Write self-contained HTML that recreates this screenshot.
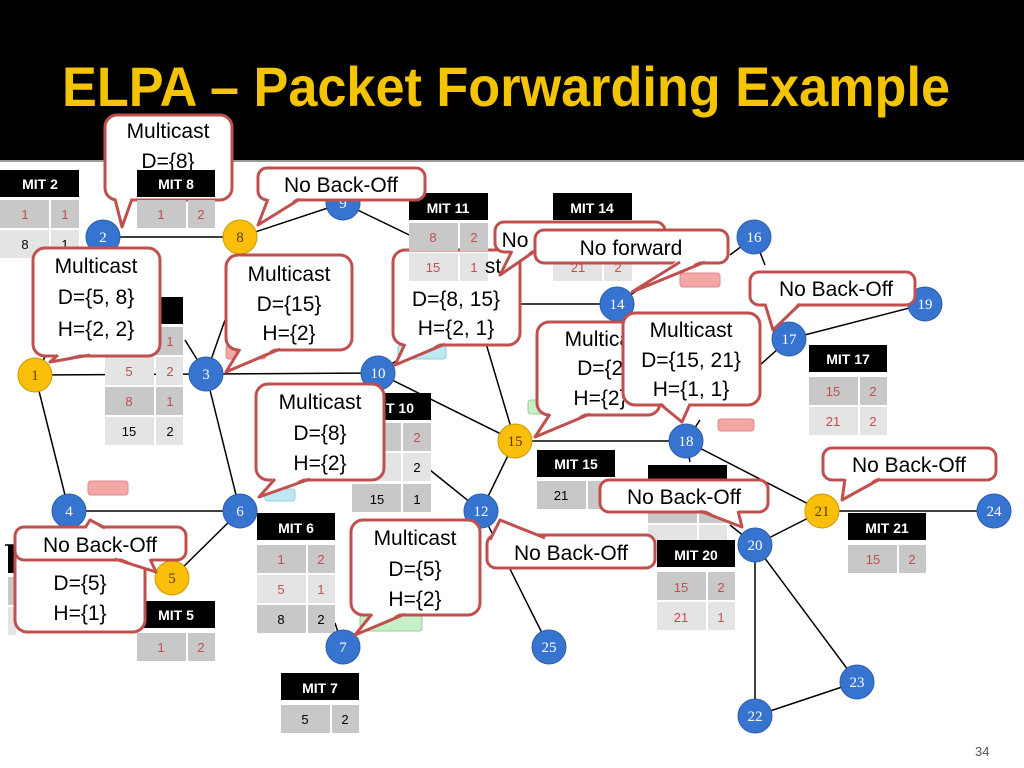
<!DOCTYPE html>
<html><head><meta charset="utf-8"><style>
html,body{margin:0;padding:0;background:#fff}
svg{display:block}
.t{font-family:"Liberation Sans",sans-serif}
.nl{font-family:"Liberation Serif",serif;font-size:15px;fill:#fff;text-anchor:middle}
.hd{font-family:"Liberation Sans",sans-serif;font-weight:bold;font-size:14px;fill:#fff;text-anchor:middle}
.cl{font-family:"Liberation Sans",sans-serif;font-size:13px;text-anchor:middle}
.co{font-family:"Liberation Sans",sans-serif;font-size:21px;fill:#000;text-anchor:middle}
</style></head><body>
<svg width="1024" height="768" viewBox="0 0 1024 768" xmlns="http://www.w3.org/2000/svg">
<rect x="0" y="0" width="1024" height="160" fill="#000"/>
<line x1="0" y1="161" x2="1024" y2="161" stroke="#999" stroke-width="2"/>
<text x="62" y="106" class="t" font-size="56" font-weight="bold" fill="#f5c400" textLength="888" lengthAdjust="spacingAndGlyphs">ELPA – Packet Forwarding Example</text>

<!-- edges -->
<g stroke="#000" stroke-width="1.5">
<line x1="35" y1="375" x2="206" y2="374"/>
<line x1="35" y1="375" x2="69" y2="511"/>
<line x1="35" y1="375" x2="60" y2="330"/>
<line x1="103" y1="237" x2="240" y2="237"/>
<line x1="240" y1="237" x2="343" y2="203"/>
<line x1="343" y1="203" x2="430" y2="245"/>
<line x1="206" y1="374" x2="378" y2="373"/>
<line x1="206" y1="374" x2="185" y2="340"/>
<line x1="206" y1="374" x2="240" y2="511"/>
<line x1="206" y1="374" x2="225" y2="320"/>
<line x1="69" y1="511" x2="240" y2="511"/>
<line x1="172" y1="578" x2="240" y2="511"/>
<line x1="378" y1="373" x2="515" y2="441"/>
<line x1="378" y1="373" x2="420" y2="345"/>
<line x1="485" y1="340" x2="515" y2="441"/>
<line x1="430" y1="470" x2="481" y2="511"/>
<line x1="515" y1="441" x2="481" y2="511"/>
<line x1="481" y1="511" x2="549" y2="647"/>
<line x1="335" y1="623" x2="343" y2="647"/>
<line x1="515" y1="441" x2="686" y2="441"/>
<line x1="520" y1="304" x2="617" y2="304"/>
<line x1="617" y1="304" x2="660" y2="275"/>
<line x1="617" y1="304" x2="615" y2="290"/>
<line x1="754" y1="237" x2="730" y2="255"/>
<line x1="754" y1="237" x2="765" y2="265"/>
<line x1="789" y1="339" x2="925" y2="304"/>
<line x1="789" y1="339" x2="760" y2="365"/>
<line x1="686" y1="441" x2="700" y2="420"/>
<line x1="686" y1="441" x2="822" y2="511"/>
<line x1="686" y1="441" x2="690" y2="462"/>
<line x1="755" y1="545" x2="822" y2="511"/>
<line x1="822" y1="511" x2="994" y2="511"/>
<line x1="755" y1="545" x2="755" y2="716"/>
<line x1="755" y1="545" x2="857" y2="682"/>
<line x1="755" y1="716" x2="857" y2="682"/>
<line x1="730" y1="525" x2="755" y2="545"/>
<line x1="20" y1="545" x2="5" y2="545"/>
</g>

<!-- small colored rects -->
<rect x="88" y="481" width="40" height="14" rx="3" fill="#f4a7a7" stroke="#d88" />
<rect x="680" y="273" width="40" height="14" rx="3" fill="#f4a7a7" stroke="#d88"/>
<rect x="718" y="419" width="36" height="12" rx="3" fill="#f4a7a7" stroke="#d88"/>
<rect x="226" y="345" width="40" height="14" rx="3" fill="#f4a7a7" stroke="#d88"/>
<rect x="265" y="489" width="30" height="12" rx="3" fill="#bde9f5" stroke="#9cd"/>
<rect x="398" y="345" width="48" height="14" rx="3" fill="#bde9f5" stroke="#9cd"/>
<rect x="528" y="400" width="30" height="14" rx="3" fill="#c6f0c6" stroke="#9c9"/>
<rect x="360" y="615" width="62" height="16" rx="3" fill="#c6f0c6" stroke="#9c9"/>

<!-- tables -->
<g id="tables">
<!-- MIT 2 -->
<rect x="0" y="170" width="79" height="27" fill="#000"/><text x="40" y="189" class="hd">MIT 2</text>
<rect x="0" y="200" width="49" height="28" fill="#c8c8c8"/><rect x="51" y="200" width="28" height="28" fill="#c8c8c8"/>
<text x="25" y="219" class="cl" fill="#c0504d">1</text><text x="65" y="219" class="cl" fill="#c0504d">1</text>
<rect x="0" y="230" width="49" height="28" fill="#e4e4e4"/><rect x="51" y="230" width="28" height="28" fill="#e4e4e4"/>
<text x="25" y="249" class="cl">8</text><text x="65" y="249" class="cl">1</text>
<!-- MIT 8 -->
<rect x="137" y="170" width="78" height="27" fill="#000"/><text x="176" y="189" class="hd">MIT 8</text>
<rect x="137" y="200" width="49" height="28" fill="#c8c8c8"/><rect x="188" y="200" width="27" height="28" fill="#c8c8c8"/>
<text x="161" y="219" class="cl" fill="#c0504d">1</text><text x="201" y="219" class="cl" fill="#c0504d">2</text>
<!-- MIT 1 -->
<rect x="105" y="297" width="78" height="27" fill="#000"/>
<rect x="105" y="327" width="49" height="28" fill="#c8c8c8"/><rect x="156" y="327" width="27" height="28" fill="#c8c8c8"/>
<text x="170" y="346" class="cl" fill="#c0504d">1</text>
<rect x="105" y="357" width="49" height="28" fill="#e4e4e4"/><rect x="156" y="357" width="27" height="28" fill="#e4e4e4"/>
<text x="129" y="376" class="cl" fill="#c0504d">5</text><text x="170" y="376" class="cl" fill="#c0504d">2</text>
<rect x="105" y="387" width="49" height="28" fill="#c8c8c8"/><rect x="156" y="387" width="27" height="28" fill="#c8c8c8"/>
<text x="129" y="406" class="cl" fill="#c0504d">8</text><text x="170" y="406" class="cl" fill="#c0504d">1</text>
<rect x="105" y="417" width="49" height="28" fill="#e4e4e4"/><rect x="156" y="417" width="27" height="28" fill="#e4e4e4"/>
<text x="129" y="436" class="cl">15</text><text x="170" y="436" class="cl">2</text>
<!-- MIT 4 (hidden) -->
<rect x="8" y="545" width="8" height="28" fill="#000"/>
<rect x="8" y="577" width="8" height="28" fill="#c8c8c8"/><rect x="8" y="607" width="8" height="28" fill="#e4e4e4"/>
<!-- MIT 10 -->
<rect x="352" y="393" width="79" height="27" fill="#000"/><text x="400" y="413" class="hd">T 10</text>
<rect x="352" y="423" width="49" height="28" fill="#c8c8c8"/><rect x="403" y="423" width="28" height="28" fill="#c8c8c8"/>
<text x="417" y="442" class="cl" fill="#c0504d">2</text>
<rect x="352" y="453" width="49" height="28" fill="#e4e4e4"/><rect x="403" y="453" width="28" height="28" fill="#e4e4e4"/>
<text x="417" y="472" class="cl">2</text>
<rect x="352" y="484" width="49" height="28" fill="#c8c8c8"/><rect x="403" y="484" width="28" height="28" fill="#c8c8c8"/>
<text x="377" y="504" class="cl">15</text><text x="417" y="504" class="cl">1</text>
<!-- MIT 6 -->
<rect x="257" y="513" width="78" height="27" fill="#000"/><text x="296" y="533" class="hd">MIT 6</text>
<rect x="257" y="545" width="49" height="28" fill="#c8c8c8"/><rect x="308" y="545" width="27" height="28" fill="#c8c8c8"/>
<text x="281" y="564" class="cl" fill="#c0504d">1</text><text x="321" y="564" class="cl" fill="#c0504d">2</text>
<rect x="257" y="575" width="49" height="28" fill="#e4e4e4"/><rect x="308" y="575" width="27" height="28" fill="#e4e4e4"/>
<text x="281" y="594" class="cl" fill="#c0504d">5</text><text x="321" y="594" class="cl" fill="#c0504d">1</text>
<rect x="257" y="605" width="49" height="28" fill="#c8c8c8"/><rect x="308" y="605" width="27" height="28" fill="#c8c8c8"/>
<text x="281" y="624" class="cl">8</text><text x="321" y="624" class="cl">2</text>
<!-- MIT 5 -->
<rect x="137" y="601" width="78" height="27" fill="#000"/><text x="176" y="620" class="hd">MIT 5</text>
<rect x="137" y="633" width="49" height="28" fill="#c8c8c8"/><rect x="188" y="633" width="27" height="28" fill="#c8c8c8"/>
<text x="161" y="652" class="cl" fill="#c0504d">1</text><text x="201" y="652" class="cl" fill="#c0504d">2</text>
<!-- MIT 7 -->
<rect x="281" y="673" width="78" height="27" fill="#000"/><text x="320" y="693" class="hd">MIT 7</text>
<rect x="281" y="705" width="49" height="28" fill="#c8c8c8"/><rect x="332" y="705" width="27" height="28" fill="#c8c8c8"/>
<text x="305" y="724" class="cl">5</text><text x="345" y="724" class="cl">2</text>
<!-- MIT 11 -->
<rect x="409" y="193" width="79" height="27" fill="#000"/><text x="448" y="213" class="hd">MIT 11</text>
<rect x="409" y="223" width="49" height="28" fill="#c8c8c8"/><rect x="460" y="223" width="28" height="28" fill="#c8c8c8"/>
<text x="433" y="242" class="cl" fill="#c0504d">8</text><text x="474" y="242" class="cl" fill="#c0504d">2</text>
<!-- MIT 14 -->
<rect x="553" y="193" width="79" height="27" fill="#000"/><text x="592" y="213" class="hd">MIT 14</text>
<rect x="553" y="223" width="49" height="28" fill="#c8c8c8"/><rect x="604" y="223" width="28" height="28" fill="#c8c8c8"/>
<rect x="553" y="253" width="49" height="28" fill="#e4e4e4"/><rect x="604" y="253" width="28" height="28" fill="#e4e4e4"/>
<text x="578" y="272" class="cl" fill="#c0504d">21</text><text x="618" y="272" class="cl" fill="#c0504d">2</text>
<!-- MIT 15 -->
<rect x="537" y="450" width="78" height="27" fill="#000"/><text x="576" y="469" class="hd">MIT 15</text>
<rect x="537" y="481" width="49" height="28" fill="#c8c8c8"/><rect x="588" y="481" width="27" height="28" fill="#c8c8c8"/>
<text x="561" y="500" class="cl">21</text>
<!-- MIT 18 -->
<rect x="648" y="465" width="79" height="27" fill="#000"/>
<rect x="648" y="495" width="49" height="28" fill="#c8c8c8"/><rect x="699" y="495" width="28" height="28" fill="#c8c8c8"/>
<rect x="648" y="525" width="49" height="28" fill="#e4e4e4"/><rect x="699" y="525" width="28" height="28" fill="#e4e4e4"/>
<!-- MIT 17 -->
<rect x="809" y="345" width="78" height="27" fill="#000"/><text x="848" y="364" class="hd">MIT 17</text>
<rect x="809" y="377" width="49" height="28" fill="#c8c8c8"/><rect x="860" y="377" width="27" height="28" fill="#c8c8c8"/>
<text x="833" y="396" class="cl" fill="#c0504d">15</text><text x="873" y="396" class="cl" fill="#c0504d">2</text>
<rect x="809" y="407" width="49" height="28" fill="#e4e4e4"/><rect x="860" y="407" width="27" height="28" fill="#e4e4e4"/>
<text x="833" y="426" class="cl" fill="#c0504d">21</text><text x="873" y="426" class="cl" fill="#c0504d">2</text>
<!-- MIT 20 -->
<rect x="657" y="540" width="78" height="27" fill="#000"/><text x="696" y="560" class="hd">MIT 20</text>
<rect x="657" y="572" width="49" height="28" fill="#c8c8c8"/><rect x="708" y="572" width="27" height="28" fill="#c8c8c8"/>
<text x="681" y="592" class="cl" fill="#c0504d">15</text><text x="721" y="592" class="cl" fill="#c0504d">2</text>
<rect x="657" y="602" width="49" height="28" fill="#e4e4e4"/><rect x="708" y="602" width="27" height="28" fill="#e4e4e4"/>
<text x="681" y="622" class="cl" fill="#c0504d">21</text><text x="721" y="622" class="cl" fill="#c0504d">1</text>
<!-- MIT 21 -->
<rect x="848" y="513" width="78" height="27" fill="#000"/><text x="887" y="533" class="hd">MIT 21</text>
<rect x="848" y="545" width="49" height="28" fill="#c8c8c8"/><rect x="899" y="545" width="27" height="28" fill="#c8c8c8"/>
<text x="873" y="564" class="cl" fill="#c0504d">15</text><text x="912" y="564" class="cl" fill="#c0504d">2</text>
</g>

<!-- nodes -->
<g stroke="#2f5fa8" stroke-width="1">
<circle cx="103" cy="237" r="17" fill="#3674cf"/>
<circle cx="206" cy="374" r="17" fill="#3674cf"/>
<circle cx="69" cy="511" r="17" fill="#3674cf"/>
<circle cx="240" cy="511" r="17" fill="#3674cf"/>
<circle cx="343" cy="647" r="17" fill="#3674cf"/>
<circle cx="343" cy="203" r="17" fill="#3674cf"/>
<circle cx="378" cy="373" r="17" fill="#3674cf"/>
<circle cx="481" cy="511" r="17" fill="#3674cf"/>
<circle cx="617" cy="304" r="17" fill="#3674cf"/>
<circle cx="754" cy="237" r="17" fill="#3674cf"/>
<circle cx="789" cy="339" r="17" fill="#3674cf"/>
<circle cx="686" cy="441" r="17" fill="#3674cf"/>
<circle cx="925" cy="304" r="17" fill="#3674cf"/>
<circle cx="755" cy="545" r="17" fill="#3674cf"/>
<circle cx="755" cy="716" r="17" fill="#3674cf"/>
<circle cx="857" cy="682" r="17" fill="#3674cf"/>
<circle cx="994" cy="511" r="17" fill="#3674cf"/>
<circle cx="549" cy="647" r="17" fill="#3674cf"/>
</g>
<g stroke="#c99a00" stroke-width="1">
<circle cx="35" cy="375" r="17" fill="#fbbf0a"/>
<circle cx="172" cy="578" r="17" fill="#fbbf0a"/>
<circle cx="240" cy="237" r="17" fill="#fbbf0a"/>
<circle cx="515" cy="441" r="17" fill="#fbbf0a"/>
<circle cx="822" cy="511" r="17" fill="#fbbf0a"/>
</g>
<g class="nl">
<text x="103" y="242">2</text><text x="206" y="379">3</text><text x="69" y="516">4</text>
<text x="240" y="516">6</text><text x="343" y="652">7</text><text x="343" y="208">9</text>
<text x="378" y="378">10</text><text x="481" y="516">12</text><text x="617" y="309">14</text>
<text x="754" y="242">16</text><text x="789" y="344">17</text><text x="686" y="446">18</text>
<text x="925" y="309">19</text><text x="755" y="550">20</text><text x="755" y="721">22</text>
<text x="857" y="687">23</text><text x="994" y="516">24</text><text x="549" y="652">25</text>
</g>
<g class="nl" style="fill:#5a3c00">
<text x="35" y="380">1</text><text x="172" y="583">5</text><text x="240" y="242">8</text>
<text x="515" y="446">15</text><text x="822" y="516">21</text>
</g>

<!-- callouts -->
<g stroke="#c0504d" stroke-width="3" fill="#fff" stroke-linejoin="round">
<!-- 1 Multicast D={8} -->
<rect x="105" y="115" width="127" height="85" rx="12"/>
<polygon points="115,196 122,227 132,196" stroke="none"/><polyline points="115,199 122,227 132,199" fill="none"/>
<!-- 2 No Back-Off -->
<rect x="258" y="168" width="167" height="32" rx="9"/>
<polygon points="268,196 258,225 300,196" stroke="none"/><polyline points="268,199 258,225 300,199" fill="none"/>
<!-- 3 -->
<rect x="33" y="248" width="127" height="108" rx="12"/>
<polygon points="58,352 50,362 90,352" stroke="none"/><polyline points="58,355 50,362 90,355" fill="none"/>
<!-- 4 -->
<rect x="226" y="255" width="126" height="95" rx="12"/>
<polygon points="240,346 226,372 280,346" stroke="none"/><polyline points="240,349 226,372 280,349" fill="none"/>
<!-- 9 -->
<rect x="256" y="384" width="128" height="96" rx="12"/>
<polygon points="275,476 259,497 310,476" stroke="none"/><polyline points="275,479 259,497 310,479" fill="none"/>
</g>
<!-- MIT 11 overlaps callout 5 later; draw callout 5 then table again -->
<g stroke="#c0504d" stroke-width="3" fill="#fff" stroke-linejoin="round">
<rect x="393" y="250" width="127" height="95" rx="12"/>
<polygon points="405,341 395,365 445,341" stroke="none"/><polyline points="405,344 395,365 445,344" fill="none"/>
</g>
<rect x="409" y="223" width="49" height="28" fill="#c8c8c8"/><rect x="460" y="223" width="28" height="28" fill="#c8c8c8"/>
<text x="433" y="242" class="cl" fill="#c0504d">8</text><text x="474" y="242" class="cl" fill="#c0504d">2</text>
<rect x="409" y="253" width="49" height="28" fill="#e4e4e4"/><rect x="460" y="253" width="28" height="28" fill="#e4e4e4"/>
<text x="433" y="272" class="cl" fill="#c0504d">15</text><text x="474" y="272" class="cl" fill="#c0504d">1</text>
<text x="493" y="273" class="co">st</text>
<text x="456" y="306" class="co">D={8, 15}</text><text x="456" y="335" class="co">H={2, 1}</text>

<g stroke="#c0504d" stroke-width="3" fill="#fff" stroke-linejoin="round">
<!-- 6 hidden No... -->
<rect x="495" y="222" width="170" height="30" rx="9"/>
<polygon points="512,248 500,275 535,248" stroke="none"/><polyline points="512,251 500,275 535,251" fill="none"/>
<!-- No forward -->
<rect x="535" y="230" width="193" height="33" rx="9"/>
<polygon points="680,259 632,292 705,259" stroke="none"/><polyline points="680,262 632,292 705,262" fill="none"/>
<!-- 7 No Back-Off -->
<rect x="750" y="272" width="165" height="33" rx="9"/>
<polygon points="765,301 773,330 800,301" stroke="none"/><polyline points="765,304 773,330 800,304" fill="none"/>
<!-- 8 Multica -->
<rect x="537" y="322" width="123" height="93" rx="12"/>
<polygon points="550,411 535,437 590,411" stroke="none"/><polyline points="550,414 535,437 590,414" fill="none"/>
</g>
<text x="515" y="247" class="co">No</text>
<text x="631" y="255" class="co">No forward</text>
<text x="836" y="296" class="co">No Back-Off</text>
<text x="606" y="346" class="co">Multicast</text><text x="606" y="375" class="co">D={21</text><text x="600" y="405" class="co">H={2}</text>
<g stroke="#c0504d" stroke-width="3" fill="#fff" stroke-linejoin="round">
<rect x="623" y="313" width="137" height="92" rx="12"/>
<polygon points="660,401 682,422 690,401" stroke="none"/><polyline points="660,404 682,422 690,404" fill="none"/>
<!-- 10 No Back-Off right -->
<rect x="823" y="448" width="173" height="32" rx="9"/>
<polygon points="845,476 842,500 880,476" stroke="none"/><polyline points="845,479 842,500 880,479" fill="none"/>
<!-- 11 -->
<rect x="600" y="480" width="168" height="32" rx="9"/>
<polygon points="700,508 742,527 738,508" stroke="none"/><polyline points="700,511 742,527 738,511" fill="none"/>
<!-- 12 -->
<rect x="487" y="535" width="168" height="33" rx="9"/>
<polygon points="491,541 500,520 545,539" stroke="none"/><polyline points="490,540 500,520 545,538" fill="none"/>
<!-- 13 -->
<rect x="351" y="520" width="129" height="95" rx="12"/>
<polygon points="372,611 355,635 405,611" stroke="none"/><polyline points="372,614 355,635 405,614" fill="none"/>
<!-- 14 D={5} box -->
<rect x="15" y="545" width="130" height="87" rx="12"/>
<rect x="15" y="527" width="171" height="33" rx="9"/>
<polygon points="115,556 156,572 150,556" stroke="none"/><polyline points="115,559 156,572 150,559" fill="none"/>
<polygon points="85,531 90,520 105,531" stroke="none"/><polyline points="85,528 90,520 105,528" fill="none"/>
</g>
<text x="168" y="138" class="co">Multicast</text><text x="168" y="168" class="co">D={8}</text>
<rect x="137" y="170" width="78" height="27" fill="#000"/><text x="176" y="189" class="hd">MIT 8</text>
<rect x="137" y="200" width="49" height="28" fill="#c8c8c8"/><rect x="188" y="200" width="27" height="28" fill="#c8c8c8"/>
<text x="161" y="219" class="cl" fill="#c0504d">1</text><text x="201" y="219" class="cl" fill="#c0504d">2</text>
<text x="341" y="192" class="co">No Back-Off</text>
<text x="96" y="273" class="co">Multicast</text><text x="96" y="304" class="co">D={5, 8}</text><text x="96" y="336" class="co">H={2, 2}</text>
<text x="289" y="281" class="co">Multicast</text><text x="289" y="311" class="co">D={15}</text><text x="289" y="340" class="co">H={2}</text>
<text x="320" y="409" class="co">Multicast</text><text x="320" y="440" class="co">D={8}</text><text x="320" y="470" class="co">H={2}</text>
<text x="691" y="337" class="co">Multicast</text><text x="691" y="367" class="co">D={15, 21}</text><text x="691" y="396" class="co">H={1, 1}</text>
<text x="909" y="472" class="co">No Back-Off</text>
<text x="684" y="504" class="co">No Back-Off</text>
<text x="571" y="560" class="co">No Back-Off</text>
<text x="415" y="545" class="co">Multicast</text><text x="415" y="576" class="co">D={5}</text><text x="415" y="606" class="co">H={2}</text>
<text x="100" y="552" class="co">No Back-Off</text>
<text x="80" y="590" class="co">D={5}</text><text x="80" y="620" class="co">H={1}</text>

<text x="975" y="756" class="t" font-size="13" fill="#555">34</text>
</svg>
</body></html>
